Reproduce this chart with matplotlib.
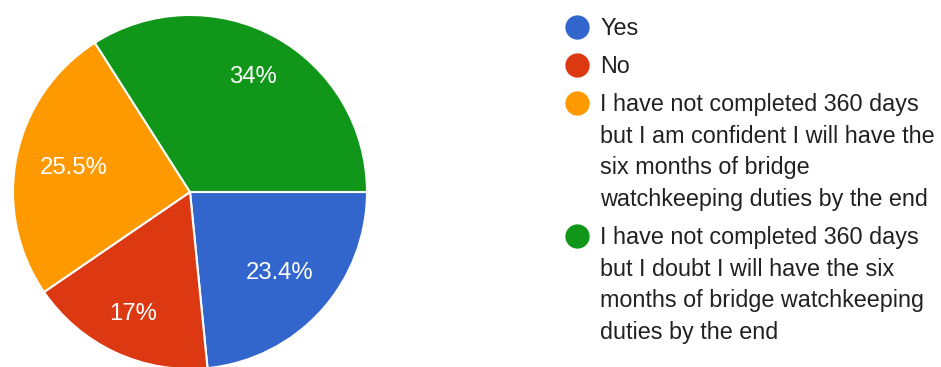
import numpy as np
import matplotlib
matplotlib.use("Agg")
import matplotlib.pyplot as plt
from matplotlib.lines import Line2D

# Survey answers and their shares (percent)
categories = [
    "Yes",
    "No",
    "I have not completed 360 days\nbut I am confident I will have the\nsix months of bridge\nwatchkeeping duties by the end",
    "I have not completed 360 days\nbut I doubt I will have the six\nmonths of bridge watchkeeping\nduties by the end",
]
shares = [23.4, 17.0, 25.5, 34.0]
pct_labels = ["23.4%", "17%", "25.5%", "34%"]

colors = ["#3366CC", "#DC3912", "#FF9900", "#109618"]
label_radius = [0.68, 0.76, 0.67, 0.74]

plt.rcParams["font.family"] = ["Liberation Sans", "DejaVu Sans"]

W, H = 941, 367
fig = plt.figure(figsize=(W / 100, H / 100), dpi=100)

# pie geometry in pixels (center and radius)
cx, cy, r = 190, 192, 177
ax = fig.add_axes([(cx - r) / W, (H - cy - r) / H, 2 * r / W, 2 * r / H])
wedges, _ = ax.pie(
    shares,
    colors=colors,
    startangle=0,
    counterclock=False,
    radius=1.0,
    wedgeprops=dict(edgecolor="white", linewidth=1.5),
)
ax.set_xlim(-1, 1)
ax.set_ylim(-1, 1)
ax.set_aspect("equal")
ax.axis("off")

for w, txt, rad in zip(wedges, pct_labels, label_radius):
    mid = np.deg2rad((w.theta1 + w.theta2) / 2)
    ax.text(rad * np.cos(mid), rad * np.sin(mid), txt, color="white",
            fontsize=17.2, ha="center", va="center")

# legend drawn in pixel coordinates
mark_x, text_x = 577, 600
y = 27
line_step, item_gap = 31.7, 38
for lab, col in zip(categories, colors):
    lines = lab.split("\n")
    fig.add_artist(Line2D([mark_x / W], [1 - y / H], marker="o", markersize=17.5,
                          color=col, markeredgewidth=0, transform=fig.transFigure))
    for i, ln in enumerate(lines):
        ly = y + i * line_step
        fig.text(text_x / W, 1 - (ly + 8) / H, ln, fontsize=16.8, color="#212121",
                 ha="left", va="baseline")
    y += (len(lines) - 1) * line_step + item_gap

fig.savefig("out.png", dpi=100, facecolor="white")
